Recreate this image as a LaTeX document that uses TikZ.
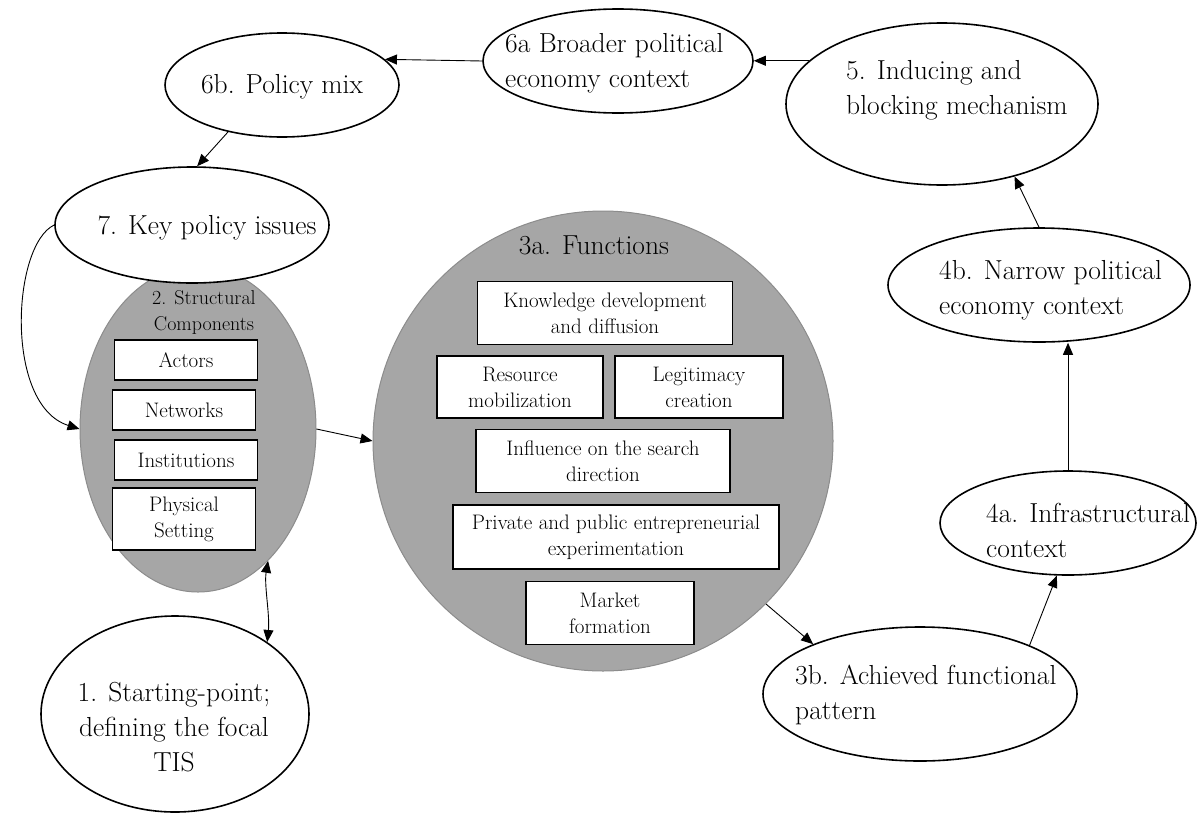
\documentclass[tikz,border=0pt]{standalone}
\usetikzlibrary{arrows.meta,shapes.geometric}
\definecolor{tisgray}{RGB}{166,166,166}
\definecolor{tisedge}{RGB}{140,140,140}
\tikzset{
  stage/.style={draw=black, line width=1.6pt, ellipse, inner sep=0pt, fill=white},
  core/.style={draw=tisedge, line width=1pt, ellipse, inner sep=0pt, fill=tisgray},
  fbox/.style={draw=black, line width=1.8pt, fill=white, inner sep=0pt, align=center,
    font=\fontsize{21}{26}\selectfont},
  big/.style={font=\fontsize{27.5}{35}\selectfont, inner sep=0pt},
  small/.style={font=\fontsize{20}{26}\selectfont, inner sep=0pt},
  arr/.style={line width=0.9pt, -{Triangle[length=12pt,width=10pt]}},
  arrboth/.style={line width=0.9pt, {Triangle[length=12pt,width=10pt]}-{Triangle[length=12pt,width=10pt]}},
}
\begin{document}
\begin{tikzpicture}[x=1pt,y=-1pt]
\useasboundingbox (0,0) rectangle (1198,814);

% gray containers
\node[core, minimum width=236pt, minimum height=326pt] (n2) at (198,429) {};
\node[core, minimum width=460pt, minimum height=460pt] (n3a) at (603,441) {};

% stage ellipses
\node[stage, minimum width=270pt, minimum height=104pt] (n6a) at (618,61) {};
\node[stage, minimum width=234pt, minimum height=104pt] (n6b) at (282,85) {};
\node[stage, minimum width=312pt, minimum height=162pt] (n5) at (942,104) {};
\node[stage, minimum width=274pt, minimum height=116pt] (n7) at (192,225) {};
\node[stage, minimum width=302pt, minimum height=114pt] (n4b) at (1039,285) {};
\node[stage, minimum width=256pt, minimum height=104pt] (n4a) at (1068,523) {};
\node[stage, minimum width=314pt, minimum height=134pt] (n3b) at (920,694) {};
\node[stage, minimum width=268pt, minimum height=196pt] (n1) at (175,714) {};

% stage labels
\node[big, anchor=west, align=left] (t6a) at (505,63) {6a Broader political\\economy context};
\node[big] (t6b) at (282,87) {6b. Policy mix};
\node[big, anchor=west, align=left] (t5) at (846,90) {5. Inducing and\\blocking mechanism};
\node[big] (t7) at (207,228) {7. Key policy issues};
\node[big, anchor=west, align=left] (t4b) at (939,290) {4b. Narrow political\\economy context};
\node[big, anchor=west, align=left] (t4a) at (986,530) {4a. Infrastructural\\context};
\node[big, anchor=west, align=left] (t3b) at (795,695) {3b. Achieved functional\\pattern};
\node[big, align=center] (t1) at (174,727) {1. Starting-point;\\defining the focal\\TIS};

% structural components
\node[small, align=center] (t2) at (204,312) {2. Structural\\Components};
\node[fbox, minimum width=143pt, minimum height=40pt] (b1) at (186,360) {Actors};
\node[fbox, minimum width=143pt, minimum height=40pt] (b2) at (184,410) {Networks};
\node[fbox, minimum width=143pt, minimum height=40pt] (b3) at (186,460) {Institutions};
\node[fbox, minimum width=143pt, minimum height=62pt] (b4) at (184,519) {Physical\\Setting};

% functions
\node[big] (t3a) at (594,245) {3a. Functions};
\node[fbox, minimum width=255pt, minimum height=63pt] (f1) at (605,313) {Knowledge development\\and diffusion};
\node[fbox, minimum width=166pt, minimum height=62pt] (f2) at (520,387) {Resource\\mobilization};
\node[fbox, minimum width=168pt, minimum height=62pt] (f3) at (699,387) {Legitimacy\\creation};
\node[fbox, minimum width=254pt, minimum height=63pt] (f4) at (603,461) {Influence on the search\\direction};
\node[fbox, minimum width=326pt, minimum height=64pt] (f5) at (616,537) {Private and public entrepreneurial\\experimentation};
\node[fbox, minimum width=168pt, minimum height=63pt] (f6) at (610,613) {Market\\formation};

% connectors
\draw[arr] (n5.162) -- (n5.162 -| n6a.east);
\draw[arr] (n6a.west) -- (n6b.14);
\draw[arr] (n6b.221) -- (n7.85);
\draw[arr] (n7.west) .. controls (12,245) and (4,405) .. (n2.west);
\draw[arr] (n2.east) -- (n3a.west);
\draw[arrboth] (n2.-62) .. controls (264,585) and (270,615) .. (n1.38);
\draw[arr] (n3a.-45) -- (n3b.155);
\draw[arr] (n3b.24) -- (n4a.258);
\draw[arr] (n4a.north) -- (n4a.north |- n4b.south);
\draw[arr] (n4b.north) -- (n5.-45);
\end{tikzpicture}
\end{document}
